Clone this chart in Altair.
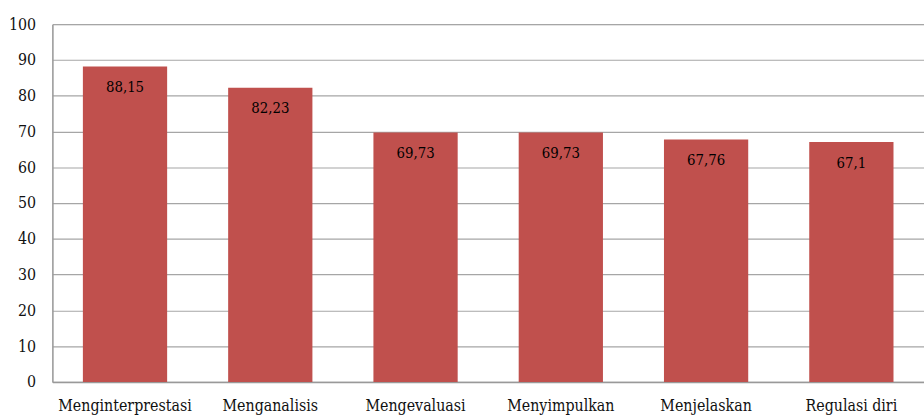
import altair as alt
import pandas as pd

categories = ["Menginterprestasi", "Menganalisis", "Mengevaluasi", "Menyimpulkan", "Menjelaskan", "Regulasi diri"]
values = [88.15, 82.23, 69.73, 69.73, 67.76, 67.1]
labels = ["88,15", "82,23", "69,73", "69,73", "67,76", "67,1"]

df = pd.DataFrame({"cat": categories, "val": values, "lab": labels})

FONT = "DejaVu Serif Condensed, DejaVu Serif"

x = alt.X("cat:N", sort=categories, title=None,
          scale=alt.Scale(paddingInner=0.42, paddingOuter=0.21),
          axis=alt.Axis(labelAngle=0, labelFont=FONT, labelFontSize=16, labelColor="#111",
                        labelPadding=16, ticks=False, domainColor="#999", domainWidth=1.5,
                        labelOverlap=False, labelLimit=0))
y = alt.Y("val:Q", title=None,
          scale=alt.Scale(domain=[0, 100], nice=False),
          axis=alt.Axis(values=list(range(0, 101, 10)), labelFont=FONT, labelFontSize=16,
                        labelColor="#111", labelPadding=17, ticks=False, domainColor="#999",
                        domainWidth=1.5, gridColor="#A6A6A6", gridWidth=1.2,
                        labelOverlap=False))

base = alt.Chart(df).encode(x=x, y=y)
bars = base.mark_bar(color="#C0504D")
text = base.mark_text(font=FONT, fontSize=15, color="#000", baseline="middle", dy=21).encode(
    text="lab:N")

chart = (bars + text).properties(
    width=882, height=362,
    autosize=alt.AutoSizeParams(type="none"),
    padding={"left": 53, "top": 22, "right": 0, "bottom": 32},
).configure_view(stroke=None).configure(background="white", font=FONT)

chart.save("out.html", embed_options={"renderer": "svg", "actions": False})
